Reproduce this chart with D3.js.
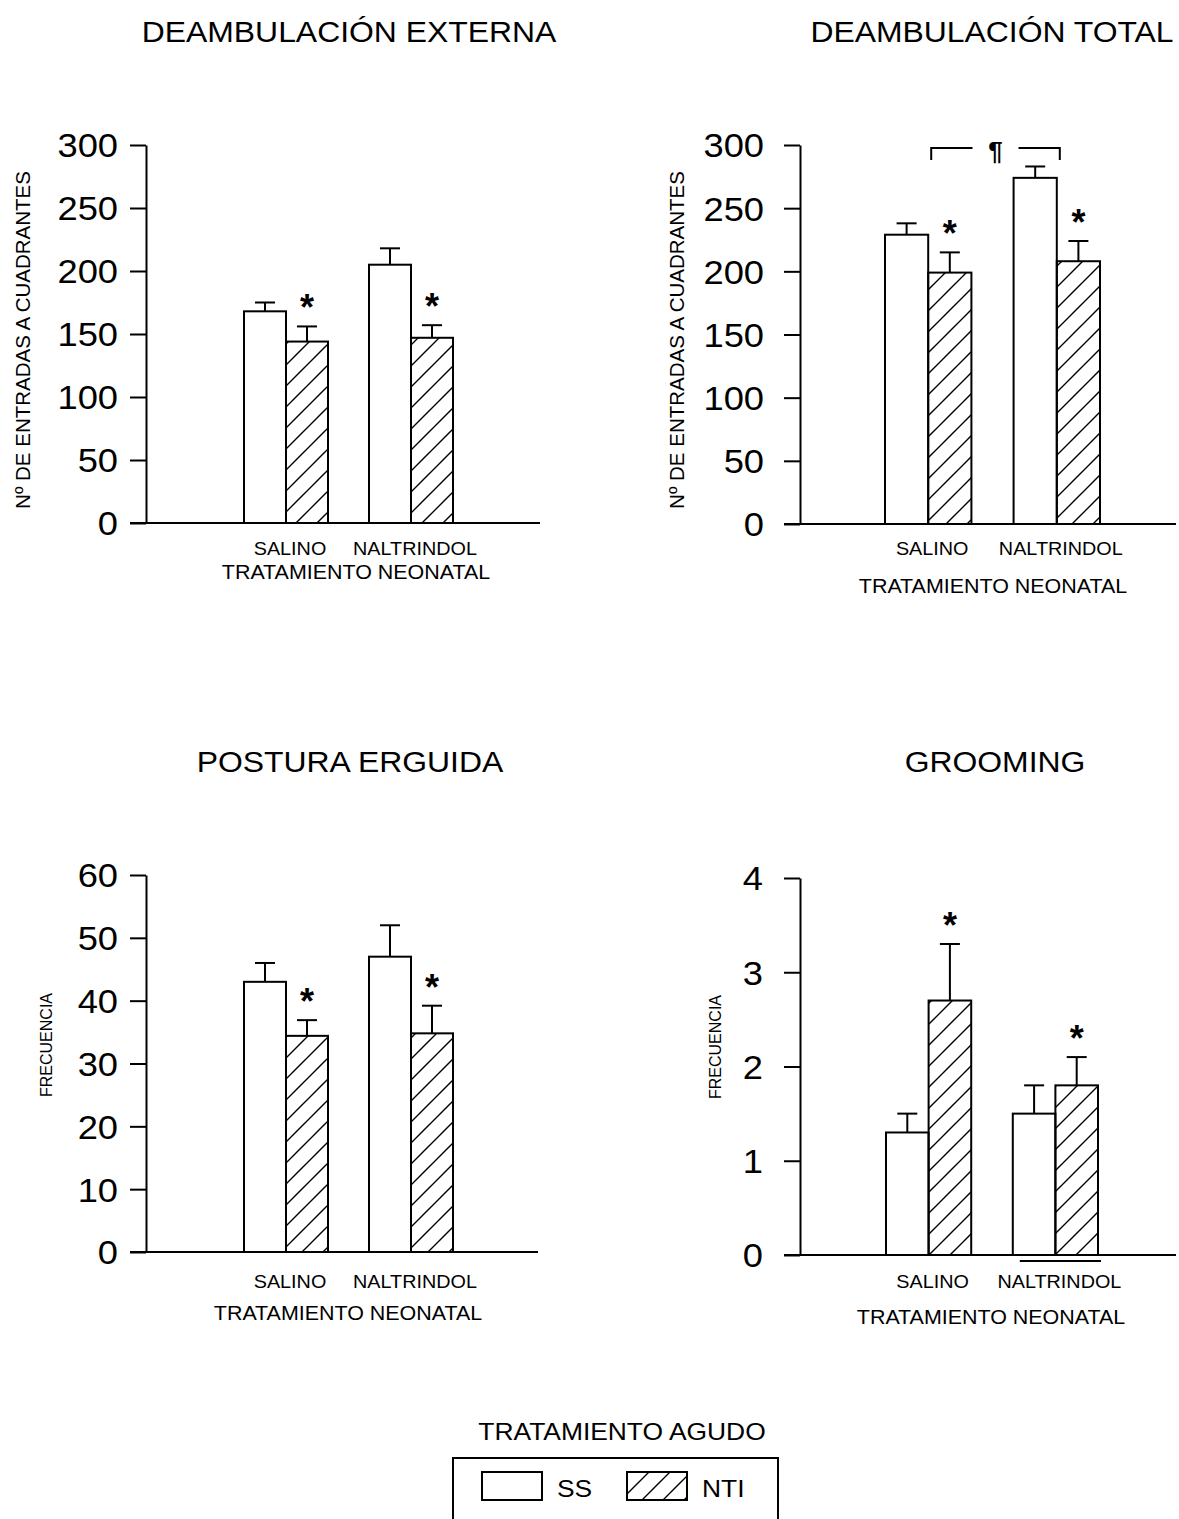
<!DOCTYPE html>
<html>
<head>
<meta charset="utf-8">
<script src="https://cdn.jsdelivr.net/npm/d3@7"></script>
<style>
  body { margin: 0; background: #fff; }
  svg text { font-family: "Liberation Sans", Arial, sans-serif; fill: #000; }
</style>
</head>
<body>
<svg id="fig" width="1179" height="1519"></svg>
<script>
// ---- data -------------------------------------------------------------
const groups = ["SALINO", "NALTRINDOL"];          // neonatal treatment
const series = ["SS", "NTI"];                     // acute treatment
const titles = ["DEAMBULACIÓN EXTERNA", "DEAMBULACIÓN TOTAL", "POSTURA ERGUIDA", "GROOMING"];
const yTitles = ["Nº DE ENTRADAS A CUADRANTES", "Nº DE ENTRADAS A CUADRANTES", "FRECUENCIA", "FRECUENCIA"];
const xTitle = "TRATAMIENTO NEONATAL";
const legendTitle = "TRATAMIENTO AGUDO";

// means and SEM, ordered [SALINO, NALTRINDOL]
const externaSS = [168, 205],   externaSSerr = [7, 13];
const externaNTI = [144, 147],  externaNTIerr = [12, 10];
const totalSS = [229, 274],     totalSSerr = [9, 9];
const totalNTI = [199, 208],    totalNTIerr = [16, 16];
const posturaSS = [43, 47],     posturaSSerr = [3, 5];
const posturaNTI = [34.4, 34.8], posturaNTIerr = [2.5, 4.4];
const groomingSS = [1.3, 1.5],  groomingSSerr = [0.2, 0.3];
const groomingNTI = [2.7, 1.8], groomingNTIerr = [0.6, 0.3];

// significance marks: asterisk over NTI bars (vs SS); ¶ between neonatal groups
const externaStar = [true, true];
const totalStar = [true, true];
const posturaStar = [true, true];
const groomingStar = [true, true];

const ticks300 = [0, 50, 100, 150, 200, 250, 300];
const ticks60 = [0, 10, 20, 30, 40, 50, 60];
const ticks4 = [0, 1, 2, 3, 4];

// ---- layout -----------------------------------------------------------
const STRETCH = 1.1;   // typeface is slightly wide
const panels = [
  { title: titles[0], yTitle: yTitles[0], ss: externaSS, ssErr: externaSSerr, nti: externaNTI, ntiErr: externaNTIerr,
    star: externaStar, ticks: ticks300, max: 300,
    axisX: 146, xEnd: 540, gx: [244, 453], yTop: 145, yBot: 523, tickGap: 28,
    titleX: 349, titleY: 42, yTitleX: 30, yTitleY: 340, yTitleSize: 20.5,
    catY: 555, xTitleX: 356, xTitleY: 579 },
  { title: titles[1], yTitle: yTitles[1], ss: totalSS, ssErr: totalSSerr, nti: totalNTI, ntiErr: totalNTIerr,
    star: totalStar, ticks: ticks300, max: 300, bracket: true,
    axisX: 800, xEnd: 1176, gx: [885, 1100], yTop: 145, yBot: 524, tickGap: 36,
    titleX: 992, titleY: 42, yTitleX: 684, yTitleY: 340, yTitleSize: 20.5,
    catY: 555, xTitleX: 993, xTitleY: 593 },
  { title: titles[2], yTitle: yTitles[2], ss: posturaSS, ssErr: posturaSSerr, nti: posturaNTI, ntiErr: posturaNTIerr,
    star: posturaStar, ticks: ticks60, max: 60,
    axisX: 146, xEnd: 538, gx: [244, 453], yTop: 875, yBot: 1252, tickGap: 28,
    titleX: 350, titleY: 772, yTitleX: 52, yTitleY: 1045, yTitleSize: 16,
    catY: 1288, xTitleX: 348, xTitleY: 1320 },
  { title: titles[3], yTitle: yTitles[3], ss: groomingSS, ssErr: groomingSSerr, nti: groomingNTI, ntiErr: groomingNTIerr,
    star: groomingStar, ticks: ticks4, max: 4, underline: "NALTRINDOL",
    axisX: 800, xEnd: 1176, gx: [886, 1098], yTop: 878, yBot: 1255, tickGap: 37,
    titleX: 995, titleY: 772, yTitleX: 721, yTitleY: 1047, yTitleSize: 16,
    catY: 1288, xTitleX: 991, xTitleY: 1324 }
];

const svg = d3.select("#fig");

// diagonal hatch for the NTI bars
const defs = svg.append("defs");
defs.append("pattern")
  .attr("id", "hatch").attr("patternUnits", "userSpaceOnUse")
  .attr("width", 21).attr("height", 21)
  .append("path")
  .attr("d", "M-2,2 L2,-2 M0,21 L21,0 M19,23 L23,19")
  .attr("stroke", "#000").attr("stroke-width", 1.4).attr("fill", "none");

function text(g, str, x, y, size, anchor, rotate, sx) {
  const s = sx === undefined ? STRETCH : sx;
  return g.append("text")
    .attr("transform", `translate(${x},${y})` + (rotate ? ` rotate(${rotate})` : "") + ` scale(${s},1)`)
    .attr("font-size", size)
    .attr("text-anchor", anchor || "middle")
    .attr("fill", "#000")
    .text(str);
}

function drawPanel(p) {
  const g = svg.append("g");
  const y = d3.scaleLinear().domain([0, p.max]).range([p.yBot, p.yTop]);
  const x0 = d3.scaleBand().domain(groups).range(p.gx).paddingInner(0.328);
  const x1 = d3.scaleBand().domain(series).range([0, x0.bandwidth()]);

  // title
  text(g, p.title, p.titleX, p.titleY, 29);

  // y axis
  const ax = g.append("g")
    .attr("transform", `translate(${p.axisX},0)`)
    .call(d3.axisLeft(y).tickValues(p.ticks).tickSize(16).tickSizeOuter(0).tickFormat(d3.format("d")));
  ax.attr("font-family", null).attr("font-size", null);
  ax.select(".domain").attr("stroke", "#000").attr("stroke-width", 2);
  ax.selectAll(".tick line").attr("stroke", "#000").attr("stroke-width", 2);
  ax.selectAll(".tick text")
    .attr("font-size", 33)
    .attr("fill", "#000")
    .attr("x", -p.tickGap / STRETCH)
    .attr("dy", "0.36em")
    .attr("transform", `scale(${STRETCH},1)`);

  // baseline
  g.append("line")
    .attr("x1", p.axisX - 16).attr("x2", p.xEnd)
    .attr("y1", y(0)).attr("y2", y(0))
    .attr("stroke", "#000").attr("stroke-width", 2);

  // y title
  text(g, p.yTitle, p.yTitleX, p.yTitleY, p.yTitleSize, "middle", -90, 1);

  // bars
  const rows = [];
  groups.forEach((grp, i) => {
    rows.push({ grp, s: "SS", v: p.ss[i], e: p.ssErr[i], star: false });
    rows.push({ grp, s: "NTI", v: p.nti[i], e: p.ntiErr[i], star: p.star[i] });
  });

  rows.forEach(r => {
    const bx = x0(r.grp) + x1(r.s);
    const bw = x1.bandwidth();
    const cx = bx + bw / 2;
    const top = y(r.v), errTop = y(r.v + r.e);
    // error bar (drawn first, bar outline overlays its foot)
    g.append("line").attr("x1", cx).attr("x2", cx).attr("y1", top).attr("y2", errTop)
      .attr("stroke", "#000").attr("stroke-width", 2);
    g.append("line").attr("x1", cx - 10).attr("x2", cx + 10).attr("y1", errTop).attr("y2", errTop)
      .attr("stroke", "#000").attr("stroke-width", 2);
    g.append("rect")
      .attr("x", bx).attr("y", top).attr("width", bw).attr("height", y(0) - top)
      .attr("fill", r.s === "SS" ? "#fff" : "url(#hatch)")
      .attr("stroke", "#000").attr("stroke-width", 2);
    if (r.star) {
      g.append("text").attr("x", cx).attr("y", errTop - 6)
        .attr("font-size", 36).attr("font-weight", "bold").attr("fill", "#000")
        .attr("text-anchor", "middle").text("*");
    }
  });

  // bracket between neonatal groups (SS bars)
  if (p.bracket) {
    const a = x0("SALINO") + x0.bandwidth() / 2 + 3;
    const b = x0("NALTRINDOL") + x0.bandwidth() / 2 + 3;
    const by = p.yTop + 3, mid = (a + b) / 2, gap = 23;
    g.append("path")
      .attr("d", `M${a},${by + 12} L${a},${by} L${mid - gap},${by} M${mid + gap},${by} L${b},${by} L${b},${by + 12}`)
      .attr("fill", "none").attr("stroke", "#000").attr("stroke-width", 2);
    g.append("text").attr("x", mid).attr("y", by + 12)
      .attr("font-size", 26).attr("font-weight", "bold").attr("fill", "#000")
      .attr("text-anchor", "middle").text("¶");
  }

  if (p.underline) {
    const ux = x0(p.underline);
    g.append("line")
      .attr("x1", ux + 7).attr("x2", ux + x0.bandwidth() + 3)
      .attr("y1", y(0) + 6).attr("y2", y(0) + 6)
      .attr("stroke", "#000").attr("stroke-width", 2);
  }

  // category labels and x title
  groups.forEach(grp => {
    text(g, grp, x0(grp) + x0.bandwidth() / 2 + 4, p.catY, 18);
  });
  text(g, xTitle, p.xTitleX, p.xTitleY, 19.5);
}

panels.forEach(drawPanel);

// ---- legend ------------------------------------------------------------
const lg = svg.append("g");
text(lg, legendTitle, 622, 1440, 24);
lg.append("rect").attr("x", 453).attr("y", 1458).attr("width", 325).attr("height", 80)
  .attr("fill", "none").attr("stroke", "#000").attr("stroke-width", 2);
const legendItems = [
  { s: series[0], x: 482, fill: "#fff" },
  { s: series[1], x: 627, fill: "url(#hatch)" }
];
legendItems.forEach(it => {
  lg.append("rect").attr("x", it.x).attr("y", 1472).attr("width", 60).attr("height", 28)
    .attr("fill", it.fill).attr("stroke", "#000").attr("stroke-width", 2);
  text(lg, it.s, it.x + 75, 1497, 24, "start");
});
</script>
</body>
</html>
